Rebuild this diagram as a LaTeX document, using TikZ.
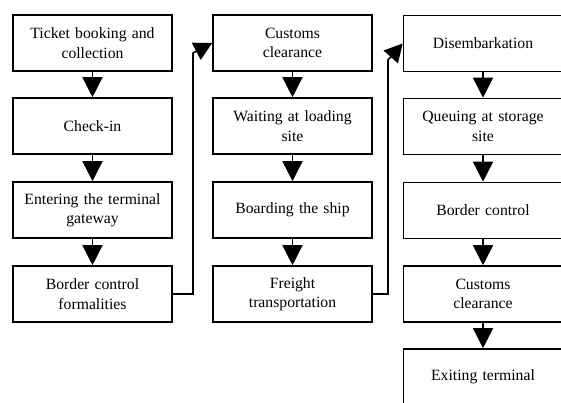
\documentclass[tikz,border=0pt]{standalone}
\usepackage{fontspec}
\setmainfont{Liberation Serif}
\usetikzlibrary{arrows.meta}
\tikzset{
  stepbox/.style={draw, line width=1.6pt, minimum width=159pt, minimum height=56pt,
    inner sep=2pt, align=center, text width=152pt,
    font=\fontsize{15.7pt}{19.5pt}\selectfont},
  flow/.style={line width=1.6pt, -{Triangle[length=20pt,width=20pt]}},
  conn/.style={line width=1.6pt, -{Triangle[length=18pt,width=19pt]}}
}
\begin{document}
\begin{tikzpicture}[x=1pt,y=-1pt]
\clip (0,0) rectangle (561,403);
\fill[white] (0,0) rectangle (561,403);
% column 1
\node[stepbox] (a1) at (92.5,43) {Ticket booking and\\collection};
\node[stepbox] (a2) at (92.5,126) {Check-in};
\node[stepbox] (a3) at (92.5,210) {Entering the terminal\\gateway};
\node[stepbox] (a4) at (92.5,294) {Border control\\formalities};
% column 2
\node[stepbox] (b1) at (292.5,43) {Customs\\clearance};
\node[stepbox] (b2) at (292.5,126) {Waiting at loading\\site};
\node[stepbox] (b3) at (292.5,210) {Boarding the ship};
\node[stepbox] (b4) at (292.5,294) {Freight\\transportation};
% column 3
\node[stepbox] (c1) at (483,43.5) {Disembarkation};
\node[stepbox] (c2) at (483,126.5) {Queuing at storage\\site};
\node[stepbox] (c3) at (483,210.5) {Border control};
\node[stepbox] (c4) at (483,294) {Customs\\clearance};
\node[stepbox] (c5) at (483,377) {Exiting terminal};
% vertical flows
\draw[flow] (a1) -- (a2);
\draw[flow] (a2) -- (a3);
\draw[flow] (a3) -- (a4);
\draw[flow] (b1) -- (b2);
\draw[flow] (b2) -- (b3);
\draw[flow] (b3) -- (b4);
\draw[flow] (c1) -- (c2);
\draw[flow] (c2) -- (c3);
\draw[flow] (c3) -- (c4);
\draw[flow] (c4) -- (c5);
% column links
\coordinate (k1) at (193,53);
\coordinate (k2) at (388,60);
\draw[conn] (a4.east) -| (k1) -- (b1.west);
\draw[conn] (b4.east) -| (k2) -- (c1.west);
\end{tikzpicture}
\end{document}
